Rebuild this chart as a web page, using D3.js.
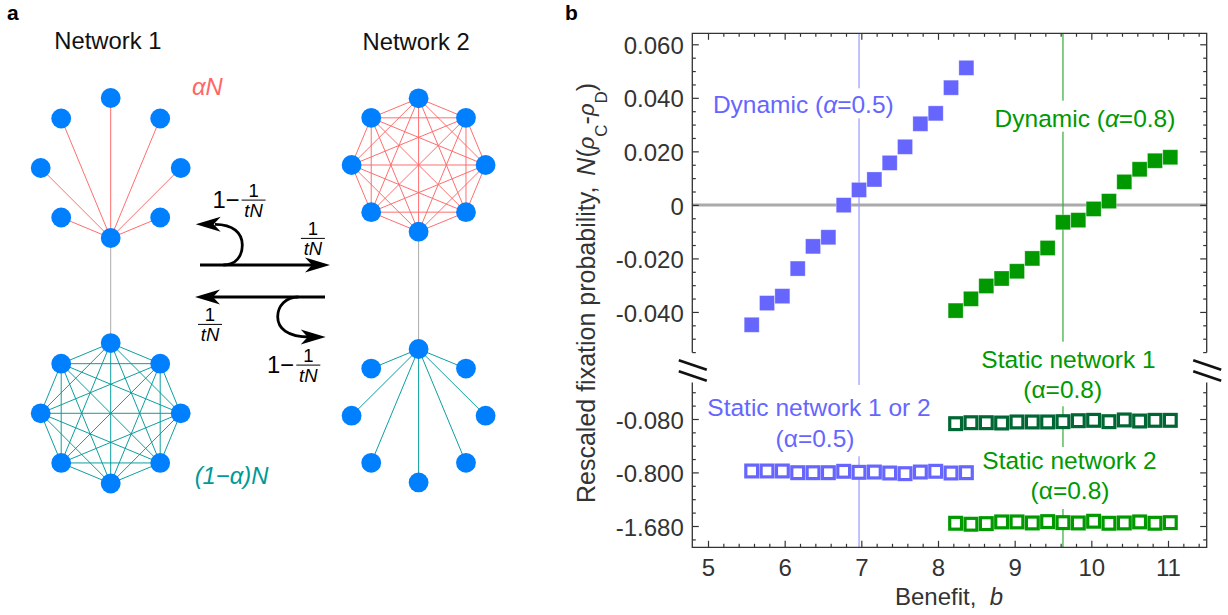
<!DOCTYPE html>
<html>
<head>
<meta charset="utf-8">
<script src="https://cdn.jsdelivr.net/npm/d3@7"></script>
<style>
  body { margin: 0; background: #fff; }
  svg { display: block; }
  text { font-family: "Liberation Sans", Arial, sans-serif; }
</style>
</head>
<body>
<svg id="chart" width="1228" height="615"></svg>
<script>
// panel b values
const dynamicHalfX = [5.57, 5.77, 5.97, 6.17, 6.37, 6.57, 6.77, 6.97, 7.17, 7.37, 7.57, 7.77, 7.97, 8.17, 8.37];
const dynamicEightX = [8.23, 8.43, 8.63, 8.83, 9.03, 9.23, 9.43, 9.63, 9.83, 10.03, 10.23, 10.43, 10.63, 10.83, 11.03];
const dynamicHalf = [-0.0448, -0.0367, -0.0341, -0.0238, -0.0155, -0.0121, -0.0001, 0.0056, 0.0095, 0.0157, 0.0217, 0.0303, 0.0342, 0.0438, 0.0512];
const dynamicEight = [-0.0395, -0.0351, -0.0303, -0.0275, -0.0248, -0.02, -0.0161, -0.0065, -0.0057, -0.0015, 0.0014, 0.0086, 0.0133, 0.0165, 0.0178];
const staticHalf = [-0.781, -0.781, -0.781, -0.805, -0.805, -0.805, -0.785, -0.799, -0.795, -0.81, -0.821, -0.795, -0.785, -0.81, -0.805];
const staticOne = [-0.143, -0.13, -0.13, -0.134, -0.12, -0.12, -0.12, -0.116, -0.103, -0.098, -0.116, -0.093, -0.107, -0.098, -0.098];
const staticTwo = [-1.635, -1.651, -1.641, -1.613, -1.613, -1.63, -1.608, -1.625, -1.63, -1.602, -1.635, -1.63, -1.613, -1.635, -1.625];
const criticalB = [6.97, 9.63];

const xMajor = [5, 6, 7, 8, 9, 10, 11];
const xMinor = [5.2, 5.4, 5.6, 5.8, 6.2, 6.4, 6.6, 6.8, 7.2, 7.4, 7.6, 7.8, 8.2, 8.4, 8.6, 8.8, 9.2, 9.4, 9.6, 9.8, 10.2, 10.4, 10.6, 10.8, 11.2, 11.4];
const yMajor = [0.06, 0.04, 0.02, 0, -0.02, -0.04, -0.08, -0.8, -1.68];
const yMajorLabels = ["0.060", "0.040", "0.020", "0", "-0.020", "-0.040", "-0.080", "-0.800", "-1.680"];
const yMinor = [0.055, 0.05, 0.045, 0.035, 0.03, 0.025, 0.015, 0.01, 0.005, -0.005, -0.01, -0.015, -0.025, -0.03, -0.035, -0.045, -0.05, -0.055, -0.07, -0.075, -0.26, -0.44, -0.62, -1.02, -1.24, -1.46, -1.9];

const BLUE = "#6666ff", GREEN = "#009900", DARK = "#006633", RED = "#ff6666", TEAL = "#009999", NODE = "#0080ff", INK = "#333";

const svg = d3.select("#chart");
const frame = {left: 692.3, right: 1206.7, top: 33.3, bottom: 547.3, gapTop: 352.5, gapBottom: 382.5};

const x = d3.scaleLinear().domain([5, 11]).range([708, 1168]);
// the axis is broken, so the lower part has its own steps
const y = d3.scaleLinear().domain([0.06, -0.08, -0.8, -1.68]).range([44.3, 419, 472.4, 526]);

// ---- panel a
const a = svg.append("g");

function octagon(cx, cy, rx, ry) {
  return d3.range(8).map(i => {
    const t = -Math.PI / 2 + i * Math.PI / 4;
    return [cx + rx * Math.cos(t), cy + ry * Math.sin(t)];
  });
}

function edge(p, q, color) {
  a.append("line").attr("x1", p[0]).attr("y1", p[1]).attr("x2", q[0]).attr("y2", q[1])
    .attr("stroke", color).attr("stroke-width", 0.95);
}

function network(pts, hub, color) {
  pts.forEach((p, i) => {
    if (hub != null) {
      if (i !== hub) edge(pts[hub], p, color);
    } else {
      pts.forEach((q, j) => { if (j > i) edge(p, q, color); });
    }
  });
}

const n1Top = octagon(110.7, 168, 70, 70);
const n1Bottom = octagon(110.7, 413.3, 70, 70.2);
const n2Top = octagon(418.6, 165, 67, 66.7);
const n2Bottom = octagon(418.6, 415.7, 67, 66.7);

a.append("line").attr("x1", n1Top[4][0]).attr("x2", n1Top[4][0]).attr("y1", n1Top[4][1]).attr("y2", n1Bottom[0][1]).attr("stroke", "#aaa").attr("stroke-width", 1);
a.append("line").attr("x1", n2Top[4][0]).attr("x2", n2Top[4][0]).attr("y1", n2Top[4][1]).attr("y2", n2Bottom[0][1]).attr("stroke", "#aaa").attr("stroke-width", 1);

network(n1Top, 4, RED);
network(n2Top, null, RED);
network(n1Bottom, null, TEAL);
network(n2Bottom, 0, TEAL);

[n1Top, n1Bottom, n2Top, n2Bottom].forEach(pts => {
  a.selectAll(null).data(pts).enter().append("circle")
    .attr("cx", d => d[0]).attr("cy", d => d[1])
    .attr("r", 9.9).attr("fill", NODE);
});

function label(g, str, px, py, size, opts) {
  opts = opts || {};
  return g.append("text").attr("x", px).attr("y", py)
    .attr("font-size", size)
    .attr("fill", opts.fill || "#111")
    .attr("font-style", opts.italic ? "italic" : null)
    .attr("font-weight", opts.bold ? "bold" : null)
    .attr("text-anchor", opts.anchor || "start")
    .text(str);
}

label(a, "a", 7, 19.5, 21, {bold: true, fill: "#000"});
label(svg, "b", 565, 20, 21, {bold: true, fill: "#000"});
label(a, "Network 1", 54.3, 49.3, 23.8);
label(a, "Network 2", 362.5, 50, 23.8);
label(a, "αN", 192, 95, 23.8, {italic: true, fill: RED});
label(a, "(1−α)N", 194.7, 484, 23.8, {italic: true, fill: TEAL});

function fraction(cx, base) {
  label(a, "1", cx, base, 18.5, {anchor: "middle", fill: "#000"});
  a.append("line").attr("x1", cx - 12).attr("x2", cx + 12).attr("y1", base + 3.4).attr("y2", base + 3.4)
    .attr("stroke", "#000").attr("stroke-width", 1);
  label(a, "tN", cx, base + 20, 18.5, {anchor: "middle", italic: true, fill: "#000"});
}

label(a, "1−", 212.5, 208.3, 23.8, {fill: "#000"});
fraction(253.6, 196.7);
fraction(312.9, 235);
fraction(210, 321);
label(a, "1−", 267, 373.3, 23.8, {fill: "#000"});
fraction(308.3, 361.7);

function arrowHead(tipX, tipY, dir) {
  a.append("path")
    .attr("d", `M${tipX},${tipY}L${tipX - dir * 25},${tipY - 7.5}L${tipX - dir * 18},${tipY}L${tipX - dir * 25},${tipY + 7.5}Z`)
    .attr("fill", "#000");
}

const arrowLines = [
  "M200,265H320",
  "M223.3,265C236,265 242.3,256 242.3,245C242.3,233 233,224.3 215,224.3",
  "M325,297H205",
  "M298.3,297C286,297 277.7,306 277.7,316.7C277.7,328 287,337 310,337"
];
a.selectAll(null).data(arrowLines).enter().append("path")
  .attr("d", d => d).attr("fill", "none").attr("stroke", "#000").attr("stroke-width", 2.8);
arrowHead(330, 265, 1);
arrowHead(195.7, 224.3, -1);
arrowHead(195, 297, -1);
arrowHead(325.7, 337, 1);

// ---- panel b
const b = svg.append("g");

// zero line and critical benefit lines go under the label backgrounds
b.append("line").attr("x1", frame.left).attr("x2", frame.right).attr("y1", y(0)).attr("y2", y(0))
  .attr("stroke", "#aaa").attr("stroke-width", 3);
b.append("line").attr("x1", x(criticalB[0])).attr("x2", x(criticalB[0])).attr("y1", frame.top).attr("y2", frame.bottom)
  .attr("stroke", "#9999ff").attr("stroke-width", 1.2);
b.append("line").attr("x1", x(criticalB[1])).attr("x2", x(criticalB[1])).attr("y1", frame.top).attr("y2", frame.bottom)
  .attr("stroke", "#33aa33").attr("stroke-width", 1.2);

const LABEL_SIZE = 24.5;
function plotLabel(lines, fill, padTop, padBottom) {
  const g = b.append("g");
  const bg = g.append("rect").attr("fill", "#fff");
  const t = g.append("g");
  lines.forEach(l => {
    const txt = t.append("text").attr("x", l.x).attr("y", l.y).attr("text-anchor", "middle")
      .attr("font-size", LABEL_SIZE).attr("fill", fill);
    txt.append("tspan").text(l.before);
    if (l.alpha) txt.append("tspan").attr("font-style", "italic").text(l.alpha);
    if (l.after) txt.append("tspan").text(l.after);
  });
  const box = t.node().getBBox();
  bg.attr("x", box.x).attr("width", box.width).attr("y", box.y - padTop).attr("height", box.height + padTop + padBottom);
}

plotLabel([{before: "Dynamic (", alpha: "α", after: "=0.5)", x: 803.3, y: 113.3}], BLUE, 3, 0);
plotLabel([{before: "Dynamic (", alpha: "α", after: "=0.8)", x: 1085, y: 126.7}], GREEN, 4, 0);
plotLabel([{before: "Static network 1 or 2", x: 819, y: 416}, {before: "(α=0.5)", x: 815, y: 447.3}], BLUE, 9, 4);
plotLabel([{before: "Static network 1", x: 1068.5, y: 367.7}, {before: "(α=0.8)", x: 1062.7, y: 398.3}], GREEN, 4, 3);
plotLabel([{before: "Static network 2", x: 1069.5, y: 469}, {before: "(α=0.8)", x: 1070, y: 499}], GREEN, 0, 5);

// axes
function styleAxis(g) {
  g.select(".domain").remove();
  g.selectAll("line").attr("stroke", INK).attr("stroke-width", 1.2);
  g.selectAll("text").attr("font-size", 24).attr("fill", INK)
    .attr("font-family", "'Liberation Sans', Arial, sans-serif");
}

b.append("g").attr("transform", `translate(0,${frame.bottom})`)
  .call(d3.axisBottom(x).tickValues(xMajor).tickSizeInner(-6.5).tickPadding(12).tickFormat(d => d))
  .call(styleAxis);
b.append("g").attr("transform", `translate(0,${frame.bottom})`)
  .call(d3.axisBottom(x).tickValues(xMinor).tickSizeInner(-3.5).tickFormat(""))
  .call(styleAxis);
b.append("g").attr("transform", `translate(0,${frame.top})`)
  .call(d3.axisTop(x).tickValues(xMajor).tickSizeInner(-6.5).tickFormat(""))
  .call(styleAxis);
b.append("g").attr("transform", `translate(0,${frame.top})`)
  .call(d3.axisTop(x).tickValues(xMinor).tickSizeInner(-3.5).tickFormat(""))
  .call(styleAxis);

b.append("g").attr("transform", `translate(${frame.left},0)`)
  .call(d3.axisLeft(y).tickValues(yMajor).tickSizeInner(-6.5).tickPadding(8.5)
    .tickFormat((d, i) => yMajorLabels[i]))
  .call(styleAxis)
  .call(g => g.selectAll("text").attr("dy", "0.38em"));
b.append("g").attr("transform", `translate(${frame.left},0)`)
  .call(d3.axisLeft(y).tickValues(yMinor).tickSizeInner(-3.5).tickFormat(""))
  .call(styleAxis);
b.append("g").attr("transform", `translate(${frame.right},0)`)
  .call(d3.axisRight(y).tickValues(yMajor).tickSizeInner(-6.5).tickFormat(""))
  .call(styleAxis);
b.append("g").attr("transform", `translate(${frame.right},0)`)
  .call(d3.axisRight(y).tickValues(yMinor).tickSizeInner(-3.5).tickFormat(""))
  .call(styleAxis);

const framePath = [
  `M${frame.left},${frame.gapTop}V${frame.top}H${frame.right}V${frame.gapTop}`,
  `M${frame.left},${frame.gapBottom}V${frame.bottom}H${frame.right}V${frame.gapBottom}`
].join("");
b.append("path").attr("d", framePath).attr("fill", "none").attr("stroke", INK).attr("stroke-width", 1.3);

// axis break marks
[frame.left, frame.right].forEach(px => {
  [365, 376].forEach(py => {
    b.append("line").attr("x1", px - 13.5).attr("x2", px + 14.5).attr("y1", py - 4.8).attr("y2", py + 4.8)
      .attr("stroke", "#111").attr("stroke-width", 2.6);
  });
});

// points
function squares(xs, ys, color, filled) {
  const data = xs.map((d, i) => [d, ys[i]]);
  const side = filled ? 15 : 11.8;
  b.append("g").selectAll("rect").data(data).enter().append("rect")
    .attr("x", d => x(d[0]) - side / 2)
    .attr("y", d => y(d[1]) - side / 2)
    .attr("width", side).attr("height", side)
    .attr("fill", filled ? color : "#fff")
    .attr("stroke", filled ? "#fff" : color)
    .attr("stroke-opacity", filled ? 0.35 : 1)
    .attr("stroke-width", filled ? 0.8 : 3.2);
}

squares(dynamicHalfX, staticHalf, BLUE, false);
squares(dynamicEightX, staticOne, DARK, false);
squares(dynamicEightX, staticTwo, GREEN, false);
squares(dynamicHalfX, dynamicHalf, BLUE, true);
squares(dynamicEightX, dynamicEight, GREEN, true);

// axis titles
const xTitle = b.append("text").attr("x", 895).attr("y", 605).attr("font-size", 24).attr("fill", INK);
xTitle.append("tspan").text("Benefit,\u00a0\u00a0");
xTitle.append("tspan").attr("font-style", "italic").text("b");

const yTitle = b.append("text").attr("transform", "translate(595,503) rotate(-90)")
  .attr("font-size", 25).attr("fill", INK);
yTitle.append("tspan").text("Rescaled fixation probability,\u00a0");
yTitle.append("tspan").attr("font-style", "italic").attr("dx", 4).text("N");
yTitle.append("tspan").text("(");
yTitle.append("tspan").attr("font-style", "italic").attr("font-size", 22).attr("dy", -1.5).text("ρ");
yTitle.append("tspan").attr("font-size", 17).attr("dy", 13.5).text("C");
yTitle.append("tspan").attr("dy", -12).text("-");
yTitle.append("tspan").attr("font-style", "italic").attr("font-size", 22).attr("dy", -1.5).text("ρ");
yTitle.append("tspan").attr("font-size", 17).attr("dy", 13.5).text("D");
yTitle.append("tspan").attr("dy", -12).text(")");
</script>
</body>
</html>
